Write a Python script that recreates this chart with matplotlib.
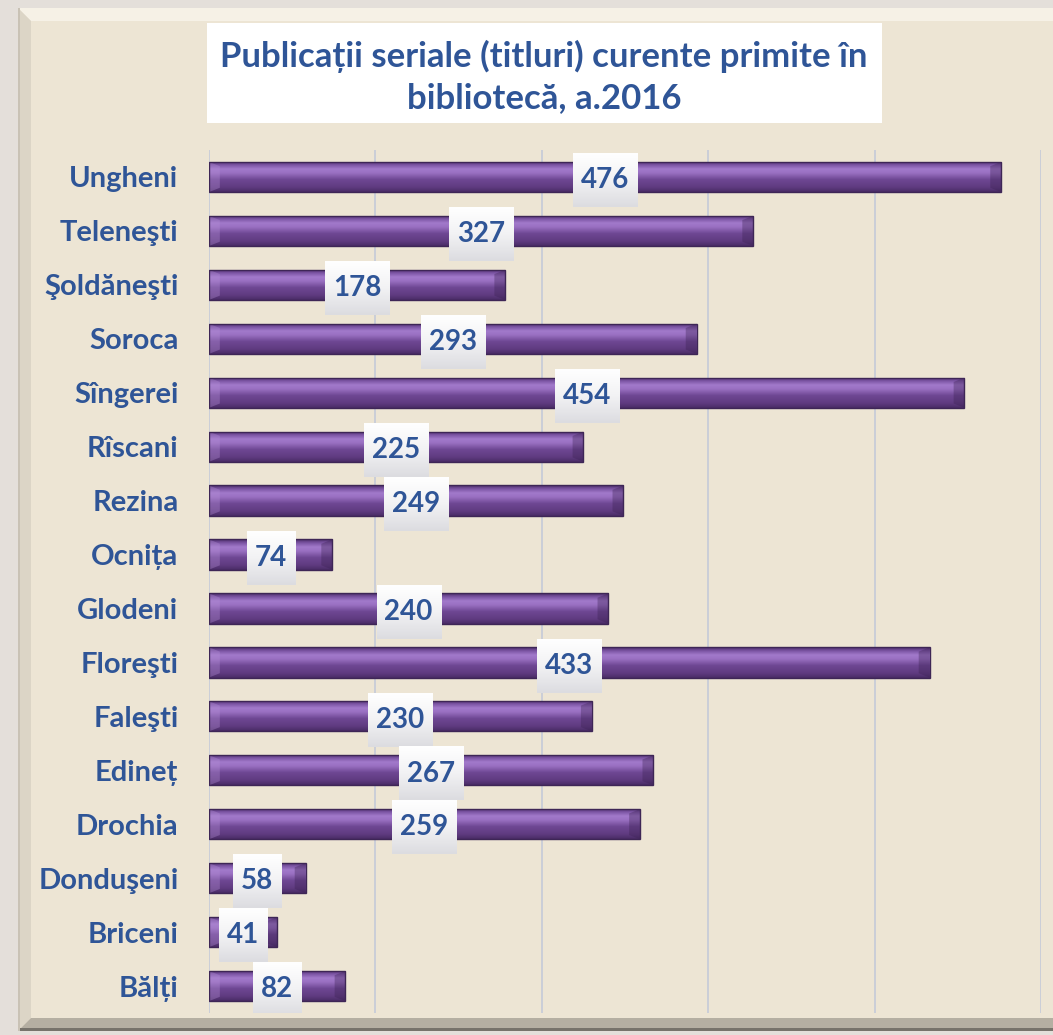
import numpy as np
import matplotlib
matplotlib.use("Agg")
import matplotlib.pyplot as plt
from matplotlib.patches import Rectangle, Polygon
from matplotlib.colors import LinearSegmentedColormap

# data, top to bottom as in the chart
categories = ["Ungheni", "Teleneşti", "Şoldăneşti", "Soroca", "Sîngerei", "Rîscani",
              "Rezina", "Ocnița", "Glodeni", "Floreşti", "Faleşti", "Edineț",
              "Drochia", "Donduşeni", "Briceni", "Bălți"]
values = [476, 327, 178, 293, 454, 225, 249, 74, 240, 433, 230, 267, 259, 58, 41, 82]
x_grid = [0, 100, 200, 300, 400, 500]
title = "Publicații seriale (titluri) curente primite în\nbibliotecă, a.2016"

BLUE = "#2F5597"
FONT = ["Lato", "DejaVu Sans"]
W, H = 1053, 1035

fig = plt.figure(figsize=(W / 100, H / 100), dpi=100, facecolor="#E4DFDA")

# background frame, drawn in pixel coordinates
bg = fig.add_axes([0, 0, 1, 1])
bg.set_xlim(0, W)
bg.set_ylim(H, 0)
bg.set_axis_off()
bw = 13
x0, y0, x1, y1 = 18, 8, W + 5, H - 4
bg.add_patch(Rectangle((x0, y0), x1 - x0, y1 - y0, fc="#EDE5D4", ec="none"))
bg.add_patch(Polygon([(x0, y0), (x1, y0), (x1, y0 + bw), (x0 + bw, y0 + bw)], fc="#F6F1E6", ec="none"))
bg.add_patch(Polygon([(x0, y0), (x0 + bw, y0 + bw), (x0 + bw, y1 - bw), (x0, y1)], fc="#DCD5C6", ec="none"))
bg.add_patch(Polygon([(x0, y1), (x0 + bw, y1 - bw), (x1, y1 - bw), (x1, y1)], fc="#B5AFA2", ec="none"))
bg.add_patch(Rectangle((x0, y1 - 3), x1 - x0, 3, fc="#77736B", ec="none"))
bg.add_patch(Rectangle((x0, y0), 1.5, y1 - y0, fc="#C9C2B5", ec="none"))
# faint woven texture
for k in np.arange(x0 + bw, x1, 7):
    bg.plot([k, k], [y0 + bw, y1 - bw], color="#D6CCBA", lw=0.6, alpha=0.35, zorder=0.5)
for k in np.arange(y0 + bw, y1 - bw, 7):
    bg.plot([x0 + bw, x1], [k, k], color="#D6CCBA", lw=0.6, alpha=0.35, zorder=0.5)

# title box
bg.add_patch(Rectangle((207, 23), 675, 100, fc="white", ec="none", zorder=2))
bg.text(544, 77, title, ha="center", va="center", color=BLUE, fontsize=25,
        fontweight="bold", family=FONT, linespacing=1.32, zorder=3)

# main chart
ax = fig.add_axes([209 / W, 1 - 1013 / H, (1041 - 209) / W, (1013 - 150) / H])
ax.patch.set_alpha(0)
n = len(categories)
ypos = np.arange(n)[::-1]
for g in x_grid:
    ax.axvline(g, color="#C8CCD8", lw=1.3, zorder=1)
for s in ax.spines.values():
    s.set_visible(False)
ax.set_xticks([])
ax.set_yticks(ypos)
ax.set_yticklabels(categories, fontsize=21, fontweight="bold", color=BLUE, family=FONT)
ax.tick_params(axis="y", length=0, pad=22)

bar_h = 0.56
bars = ax.barh(ypos, values, height=bar_h, color="none", edgecolor="#3E2656", lw=1.0, zorder=4)
cmap = LinearSegmentedColormap.from_list(
    "bev", [(0.0, "#4A2C66"), (0.15, "#5F3B80"), (0.4, "#6E4793"),
            (0.62, "#9A70C2"), (0.75, "#A27ACB"), (0.88, "#7C55A4"), (1.0, "#4E2F6C")])
box_cmap = LinearSegmentedColormap.from_list("box", ["#DCDCE0", "#F2F2F4", "#FFFFFF"])
grad = np.linspace(0, 1, 64).reshape(-1, 1)
d = 6.5  # bevel depth in data units
box_h = 1.0
for b, y, v in zip(bars, ypos, values):
    im = ax.imshow(grad, extent=[0, v, y - bar_h / 2, y + bar_h / 2], origin="lower",
                   aspect="auto", cmap=cmap, zorder=3)
    im.set_clip_path(b)
    dd = min(d, v / 3)
    ax.add_patch(Polygon([(0, y - bar_h / 2), (dd, y - bar_h / 2 + 0.08), (dd, y + bar_h / 2 - 0.08),
                          (0, y + bar_h / 2)], closed=True, fc="#B590D6", alpha=0.35, ec="none", zorder=3.5))
    ax.add_patch(Polygon([(v, y - bar_h / 2), (v - dd, y - bar_h / 2 + 0.08), (v - dd, y + bar_h / 2 - 0.08),
                          (v, y + bar_h / 2)], closed=True, fc="#3A2150", alpha=0.35, ec="none", zorder=3.5))
    # label box with soft gradient
    bwid = 9.5 + 9.7 * len(str(v))
    yc = y - 0.06
    ax.imshow(grad, extent=[v / 2 - bwid / 2, v / 2 + bwid / 2, yc - box_h / 2, yc + box_h / 2],
              origin="lower", aspect="auto", cmap=box_cmap, zorder=5)
    ax.text(v / 2, yc, str(v), ha="center", va="center", fontsize=20, fontweight="bold",
            color=BLUE, family=FONT, zorder=6)

ax.set_xlim(x_grid[0], x_grid[-1])
ax.set_ylim(-0.5, n - 0.5)
fig.savefig("out.png", dpi=100, facecolor=fig.get_facecolor())
